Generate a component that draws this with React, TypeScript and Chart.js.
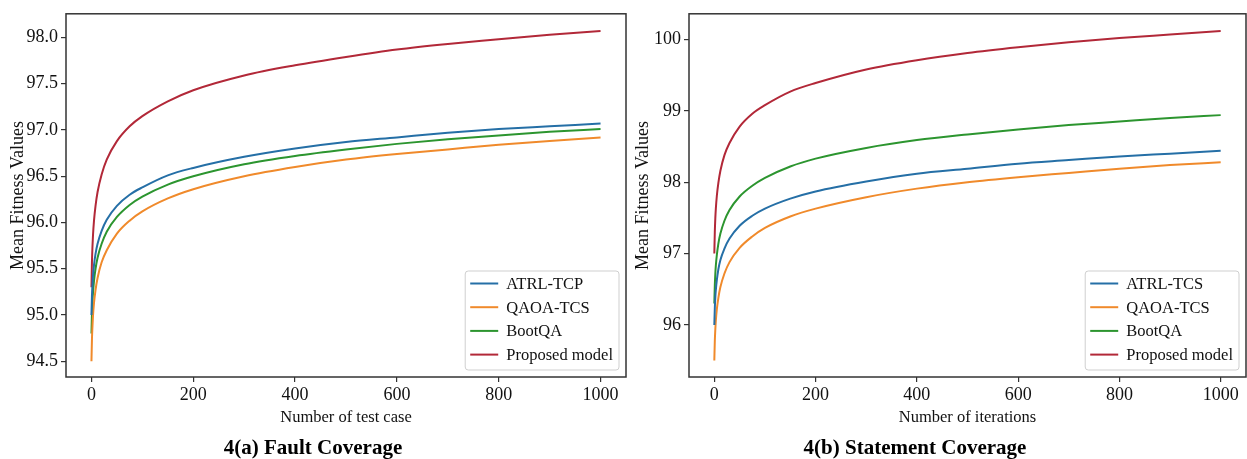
import React, { useEffect, useRef } from "react";
import { Chart, registerables } from "chart.js";

Chart.register(...registerables);

// ---------- data ----------
const xValues = [0, 1, 2, 3, 5, 8, 12, 20, 30, 50, 75, 100, 150, 200, 300, 400, 500, 600, 700, 800, 900, 1000];

// 4(a) Fault Coverage
const faultATRL = [95.0, 95.21, 95.33, 95.42, 95.54, 95.66, 95.77, 95.91, 96.03, 96.18, 96.3, 96.38, 96.51, 96.59, 96.71, 96.8, 96.87, 96.92, 96.97, 97.01, 97.04, 97.07];
const faultQAOA = [94.5, 94.74, 94.88, 94.99, 95.13, 95.27, 95.4, 95.57, 95.7, 95.88, 96.02, 96.12, 96.26, 96.36, 96.5, 96.6, 96.68, 96.74, 96.79, 96.84, 96.88, 96.92];
const faultBootQA = [94.8, 95.02, 95.15, 95.24, 95.37, 95.5, 95.62, 95.77, 95.9, 96.06, 96.19, 96.28, 96.41, 96.5, 96.63, 96.72, 96.79, 96.85, 96.9, 96.94, 96.98, 97.01];
const faultProposed = [95.3, 95.58, 95.74, 95.86, 96.02, 96.18, 96.33, 96.52, 96.68, 96.88, 97.04, 97.15, 97.31, 97.43, 97.59, 97.7, 97.79, 97.87, 97.93, 97.98, 98.03, 98.07];

// 4(b) Statement Coverage
const stmtATRL = [96.0, 96.24, 96.39, 96.49, 96.63, 96.78, 96.91, 97.07, 97.21, 97.39, 97.53, 97.63, 97.77, 97.87, 98.01, 98.12, 98.19, 98.26, 98.31, 98.36, 98.4, 98.44];
const stmtQAOA = [95.5, 95.78, 95.94, 96.06, 96.22, 96.38, 96.53, 96.72, 96.88, 97.08, 97.24, 97.36, 97.52, 97.63, 97.79, 97.91, 98.0, 98.07, 98.13, 98.19, 98.24, 98.28];
const stmtBootQA = [96.3, 96.56, 96.72, 96.83, 96.98, 97.14, 97.28, 97.46, 97.61, 97.8, 97.95, 98.06, 98.22, 98.33, 98.48, 98.59, 98.67, 98.74, 98.8, 98.85, 98.9, 98.94];
const stmtProposed = [97.0, 97.31, 97.5, 97.63, 97.81, 97.99, 98.16, 98.38, 98.55, 98.78, 98.96, 99.08, 99.27, 99.39, 99.58, 99.71, 99.81, 99.89, 99.96, 100.02, 100.07, 100.12];

const namesA = ["ATRL-TCP", "QAOA-TCS", "BootQA", "Proposed model"];
const namesB = ["ATRL-TCS", "QAOA-TCS", "BootQA", "Proposed model"];

const xTicks = [0, 200, 400, 600, 800, 1000];
const faultYTicks = [94.5, 95.0, 95.5, 96.0, 96.5, 97.0, 97.5, 98.0];
const stmtYTicks = [96, 97, 98, 99, 100];

const seriesColors = ["#256fa6", "#f08a2b", "#2c952f", "#b22838"];

const FONT = "'Liberation Serif', 'Times New Roman', serif";

type Props = {
  left: number;
  width: number;
  height: number;
  series: number[][];
  names: string[];
  yMin: number;
  yMax: number;
  yTicks: number[];
  decimals: number;
  xTitle: string;
  axisWidth: number;
  padRight: number;
  yTitlePad: number;
};

const framePlugin = {
  id: "frame",
  afterDatasetsDraw(chart: any) {
    const { ctx, chartArea } = chart;
    ctx.save();
    ctx.strokeStyle = "#333333";
    ctx.lineWidth = 1.5;
    ctx.strokeRect(chartArea.left, chartArea.top, chartArea.right - chartArea.left, chartArea.bottom - chartArea.top);
    ctx.restore();
  },
};

const legendPlugin = {
  id: "innerLegend",
  afterDraw(chart: any) {
    const { ctx, chartArea } = chart;
    const ds = chart.data.datasets;
    ctx.save();
    ctx.font = `16.5px ${FONT}`;
    let maxW = 0;
    ds.forEach((d: any) => {
      maxW = Math.max(maxW, ctx.measureText(d.label).width);
    });
    const boxW = 41 + maxW + 6;
    const boxH = 99;
    const right = chartArea.right - 7;
    const bottom = chartArea.bottom - 7;
    const x0 = right - boxW;
    const y0 = bottom - boxH;
    const r = 3;
    ctx.beginPath();
    ctx.moveTo(x0 + r, y0);
    ctx.lineTo(x0 + boxW - r, y0);
    ctx.quadraticCurveTo(x0 + boxW, y0, x0 + boxW, y0 + r);
    ctx.lineTo(x0 + boxW, y0 + boxH - r);
    ctx.quadraticCurveTo(x0 + boxW, y0 + boxH, x0 + boxW - r, y0 + boxH);
    ctx.lineTo(x0 + r, y0 + boxH);
    ctx.quadraticCurveTo(x0, y0 + boxH, x0, y0 + boxH - r);
    ctx.lineTo(x0, y0 + r);
    ctx.quadraticCurveTo(x0, y0, x0 + r, y0);
    ctx.closePath();
    ctx.fillStyle = "rgba(255,255,255,0.85)";
    ctx.fill();
    ctx.strokeStyle = "#cfcfcf";
    ctx.lineWidth = 1;
    ctx.stroke();
    ds.forEach((d: any, i: number) => {
      const cy = y0 + 12.5 + i * 23.7;
      ctx.strokeStyle = d.borderColor;
      ctx.lineWidth = 2;
      ctx.beginPath();
      ctx.moveTo(x0 + 5, cy);
      ctx.lineTo(x0 + 33, cy);
      ctx.stroke();
      ctx.fillStyle = "#111111";
      ctx.textBaseline = "middle";
      ctx.textAlign = "left";
      ctx.fillText(d.label, x0 + 41, cy + 1);
    });
    ctx.restore();
  },
};

function LineChart(p: Props) {
  const ref = useRef<HTMLCanvasElement | null>(null);
  useEffect(() => {
    if (!ref.current) return;
    const datasets = p.series.map((vals, i) => ({
      label: p.names[i],
      data: xValues.map((x, j) => ({ x, y: vals[j] })),
      borderColor: seriesColors[i],
      backgroundColor: seriesColors[i],
      borderWidth: 2,
      pointRadius: 0,
      cubicInterpolationMode: "monotone" as const,
      fill: false,
    }));
    const tickFont = { family: FONT, size: 18 };
    const chart = new Chart(ref.current, {
      type: "line",
      data: { datasets },
      plugins: [framePlugin, legendPlugin],
      options: {
        animation: false,
        responsive: false,
        maintainAspectRatio: false,
        events: [],
        layout: { padding: { left: 0, right: p.padRight, top: 9, bottom: 0 } },
        plugins: { legend: { display: false }, tooltip: { enabled: false }, title: { display: false } },
        scales: {
          x: {
            type: "linear",
            min: -50,
            max: 1050,
            afterBuildTicks: (scale: any) => {
              scale.ticks = xTicks.map((v) => ({ value: v }));
            },
            afterFit: (scale: any) => {
              scale.height = p.height - 377;
            },
            ticks: {
              font: tickFont,
              color: "#111111",
              padding: 2,
              maxRotation: 0,
              autoSkip: false,
              callback: (v: any) => String(v),
            },
            grid: { display: true, drawOnChartArea: false, drawTicks: true, tickLength: 5, color: "#333333", lineWidth: 1.2 },
            border: { display: false },
            title: {
              display: true,
              text: p.xTitle,
              font: { family: FONT, size: 16.5 },
              color: "#111111",
              padding: { top: 0, bottom: 31 },
            },
          },
          y: {
            type: "linear",
            min: p.yMin,
            max: p.yMax,
            afterBuildTicks: (scale: any) => {
              scale.ticks = p.yTicks.map((v) => ({ value: v }));
            },
            afterFit: (scale: any) => {
              scale.width = p.axisWidth;
            },
            ticks: {
              font: tickFont,
              color: "#111111",
              padding: 3,
              autoSkip: false,
              callback: (v: any) => Number(v).toFixed(p.decimals),
            },
            grid: { display: true, drawOnChartArea: false, drawTicks: true, tickLength: 5, color: "#333333", lineWidth: 1.2 },
            border: { display: false },
            title: {
              display: true,
              text: "Mean Fitness Values",
              font: { family: FONT, size: 18 },
              color: "#111111",
              padding: { top: p.yTitlePad, bottom: 0 },
            },
          },
        },
      },
    });
    return () => chart.destroy();
  }, []);
  return (
    <canvas
      ref={ref}
      width={p.width}
      height={p.height}
      style={{ position: "absolute", left: p.left, top: 0, width: p.width, height: p.height }}
    />
  );
}

const captionStyle: React.CSSProperties = {
  position: "absolute",
  top: 435,
  width: 400,
  height: 24,
  lineHeight: "24px",
  textAlign: "center",
  fontFamily: FONT,
  fontWeight: "bold",
  fontSize: 21,
  color: "#000",
};

export default function App() {
  return (
    <div style={{ position: "fixed", left: 0, top: 0, width: 1247, height: 459, background: "#ffffff", overflow: "hidden" }}>
      <LineChart
        left={0}
        width={630}
        height={459}
        series={[faultATRL, faultQAOA, faultBootQA, faultProposed]}
        names={namesA}
        yMin={94.33}
        yMax={98.256}
        yTicks={faultYTicks}
        decimals={1}
        xTitle="Number of test case"
        axisWidth={66}
        padRight={4}
        yTitlePad={7}
      />
      <LineChart
        left={630}
        width={617}
        height={459}
        series={[stmtATRL, stmtQAOA, stmtBootQA, stmtProposed]}
        names={namesB}
        yMin={95.27}
        yMax={100.36}
        yTicks={stmtYTicks}
        decimals={0}
        xTitle="Number of iterations"
        axisWidth={59}
        padRight={1}
        yTitlePad={2}
      />
      <div style={{ ...captionStyle, left: 313 - 200 }}>4(a) Fault Coverage</div>
      <div style={{ ...captionStyle, left: 915 - 200 }}>4(b) Statement Coverage</div>
    </div>
  );
}
